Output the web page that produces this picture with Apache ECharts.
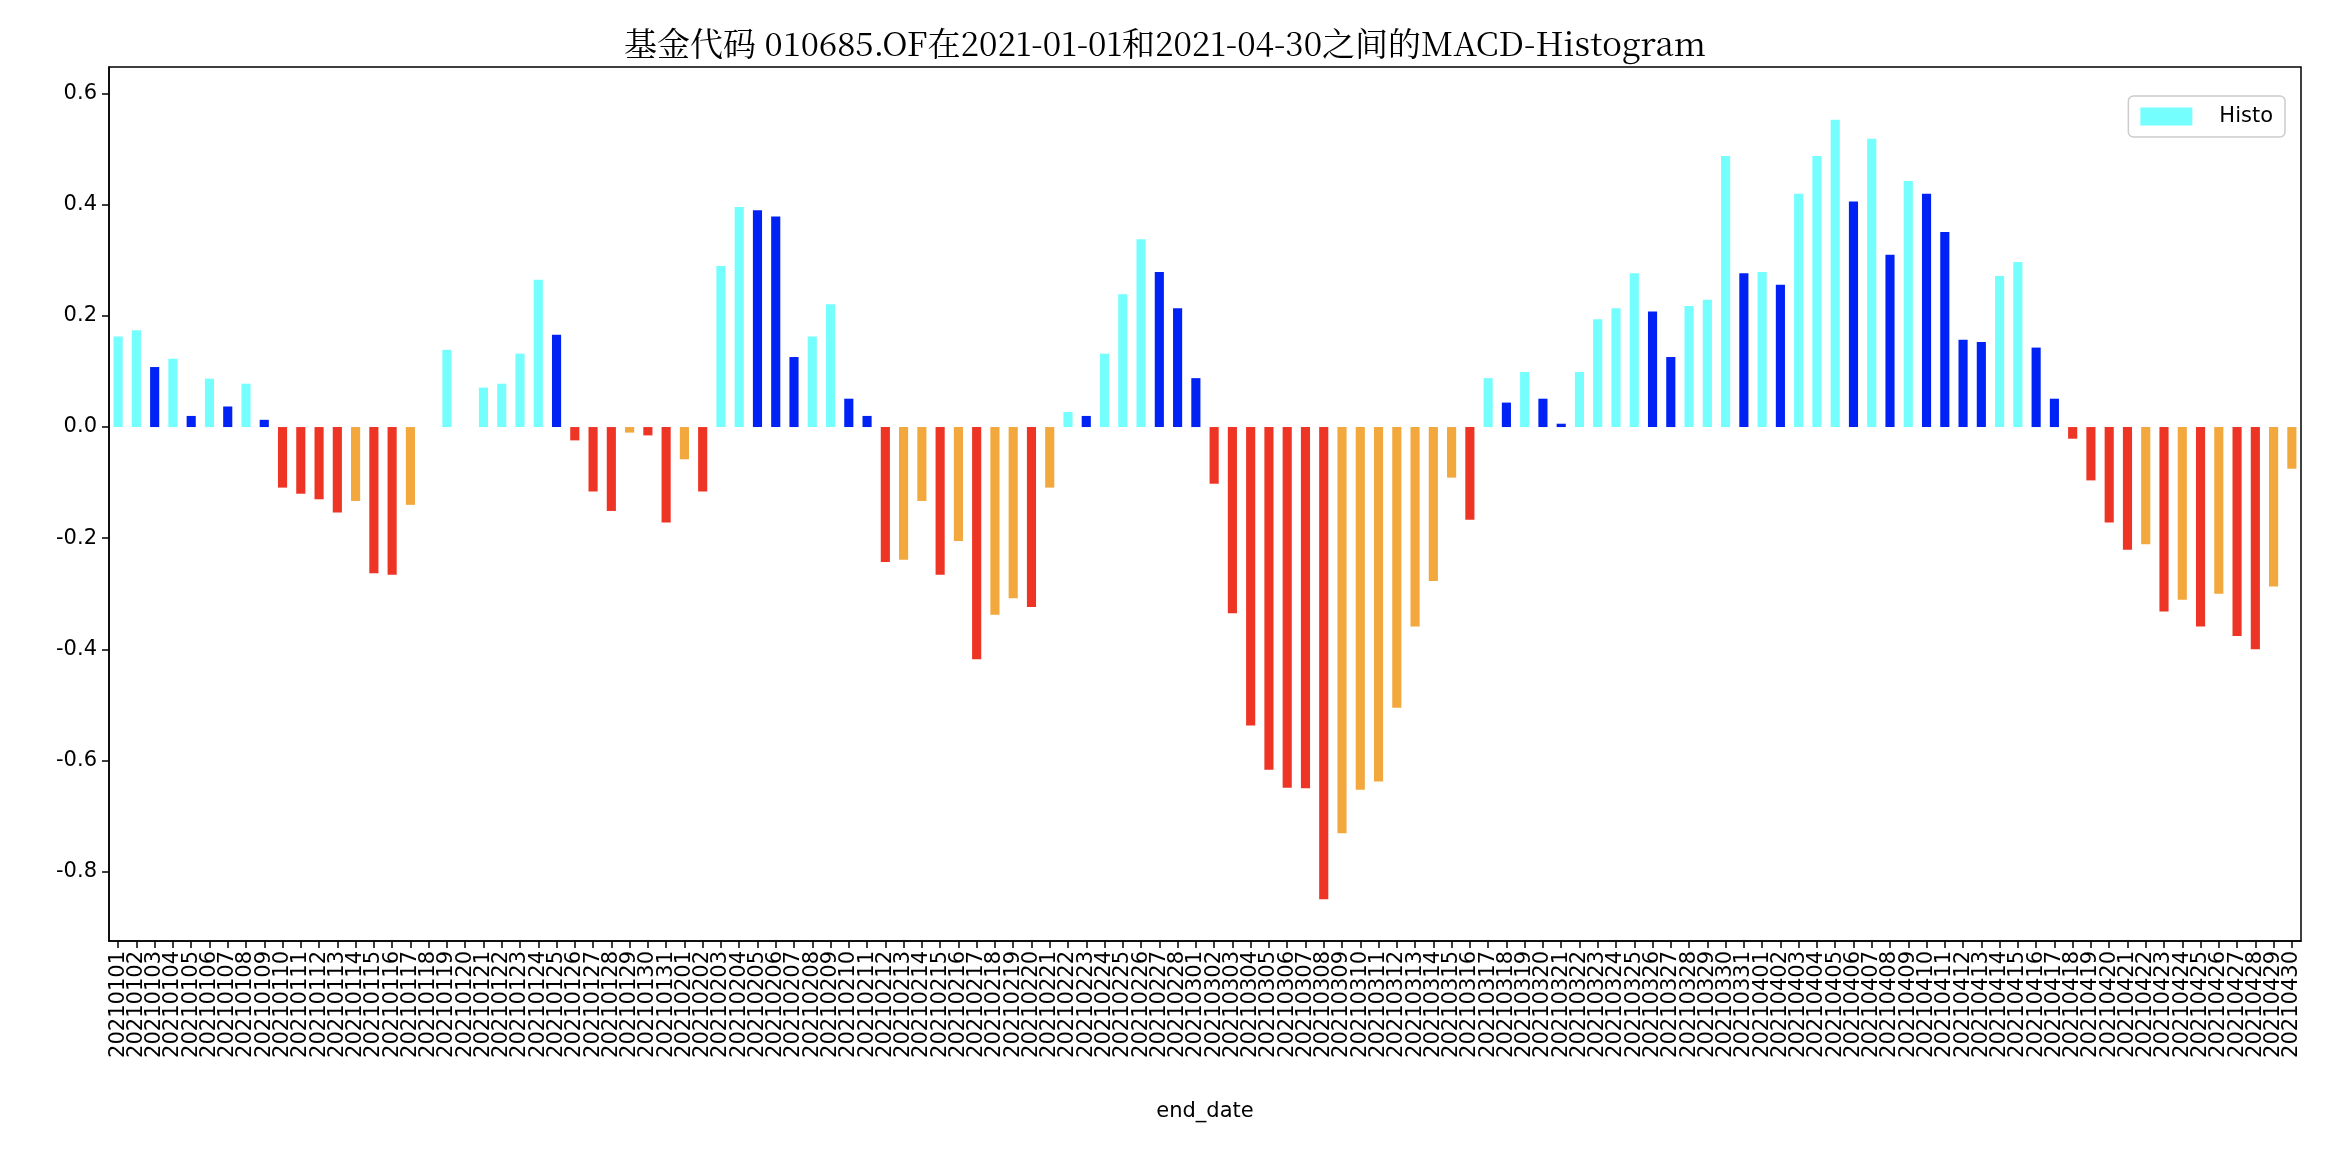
<!DOCTYPE html>
<html><head><meta charset="utf-8">
<script src="https://cdn.jsdelivr.net/npm/echarts@6/dist/echarts.min.js"></script>
<style>html,body{margin:0;padding:0;background:#fff}#c{width:2330px;height:1164px}</style>
</head><body><div id="c"></div>
<script>
const dates = (function(){const out=[];const months=[[1,31],[2,28],[3,31],[4,30]];for(const [m,n] of months){for(let d=1;d<=n;d++){out.push('2021'+String(m).padStart(2,'0')+String(d).padStart(2,'0'));}}return out;})();
const histJan = [0.163,0.174,0.108,0.123,0.02,0.087,0.037,0.078,0.013,-0.109,-0.12,-0.13,-0.154,-0.133,-0.263,-0.266,-0.14,0,0.139,0,0.071,0.078,0.132,0.265,0.166,-0.024,-0.116,-0.151,-0.01,-0.015,-0.172];
const histFeb = [-0.058,-0.116,0.29,0.396,0.39,0.379,0.126,0.163,0.221,0.051,0.02,-0.243,-0.239,-0.133,-0.266,-0.205,-0.418,-0.338,-0.308,-0.324,-0.109,0.027,0.02,0.132,0.239,0.338,0.279,0.214];
const histMar = [0.088,-0.102,-0.335,-0.537,-0.617,-0.649,-0.65,-0.85,-0.731,-0.653,-0.638,-0.505,-0.359,-0.277,-0.091,-0.167,0.088,0.044,0.099,0.051,0.006,0.099,0.194,0.214,0.277,0.208,0.126,0.218,0.229,0.488,0.277];
const histApr = [0.279,0.256,0.42,0.488,0.553,0.406,0.519,0.31,0.443,0.42,0.351,0.157,0.153,0.272,0.297,0.143,0.051,-0.021,-0.096,-0.172,-0.221,-0.211,-0.332,-0.311,-0.359,-0.3,-0.376,-0.4,-0.287,-0.075];
const histo = histJan.concat(histFeb, histMar, histApr);
const yTicks = [-0.8,-0.6,-0.4,-0.2,0,0.2,0.4,0.6];

const C_UP='#74FEFE', C_UPDN='#0022F5', C_DN='#EE3424', C_DNUP='#F2A83C';
function colorFor(i){const v=histo[i];const p=i>0?histo[i-1]:-Infinity;
  if(v>=0) return v>=p?C_UP:C_UPDN; return v<p?C_DN:C_DNUP;}

const chart = echarts.init(document.getElementById('c'));
const font = 'DejaVu Sans';
chart.setOption({
  animation:false,
  title:{text:'基金代码 010685.OF在2021-01-01和2021-04-30之间的MACD-Histogram',left:'center',top:22,
    textStyle:{fontFamily:'Noto Serif CJK SC, Noto Sans CJK SC',fontWeight:'normal',fontSize:33,color:'#000'}},
  legend:{right:45,top:96,data:['Histo'],itemWidth:52,itemHeight:18,itemGap:10,
    icon:'rect',backgroundColor:'#fff',borderColor:'#ccc',borderWidth:1.5,borderRadius:5,padding:[10,12,10,12],
    textStyle:{fontFamily:font,fontSize:21,color:'#000',padding:[0,0,0,22]}},
  grid:{left:109,right:29,top:67,bottom:223,show:true,borderColor:'#000',borderWidth:1.5,backgroundColor:'transparent'},
  xAxis:{type:'category',data:dates,name:'end_date',nameLocation:'middle',nameGap:160,
    nameTextStyle:{fontFamily:font,fontSize:21,color:'#000'},
    axisLine:{show:true,onZero:false,lineStyle:{color:'#000',width:1.5}},
    axisTick:{show:true,alignWithLabel:true,interval:0,length:7,lineStyle:{color:'#000',width:1.5}},
    axisLabel:{interval:0,rotate:90,fontFamily:font,fontSize:21,color:'#000',margin:10},
    splitLine:{show:false}},
  yAxis:{type:'value',min:-0.925,max:0.648,
    axisLine:{show:true,lineStyle:{color:'#000',width:1.5}},
    axisTick:{show:true,length:7,customValues:yTicks,lineStyle:{color:'#000',width:1.5}},
    axisLabel:{customValues:yTicks,fontFamily:font,fontSize:21,color:'#000',margin:12,formatter:v=>v.toFixed(1)},
    splitLine:{show:false}},
  series:[{name:'Histo',type:'bar',barWidth:'50%',itemStyle:{color:C_UP},
    data:histo.map((v,i)=>({value:v,itemStyle:{color:colorFor(i)}}))}]
});
</script></body></html>
